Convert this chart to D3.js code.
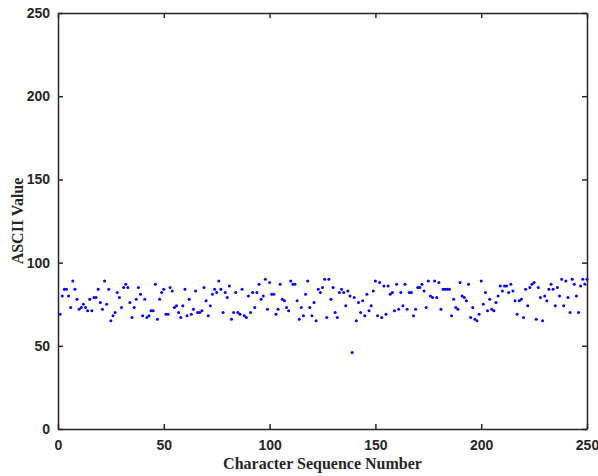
<!DOCTYPE html>
<html>
<head>
<meta charset="utf-8">
<script src="https://cdn.jsdelivr.net/npm/d3@7"></script>
<style>
  body { margin: 0; background: #fff; }
  .tick text { font-family: "Liberation Sans", Arial, sans-serif; font-weight: bold; font-size: 14px; fill: #262626; }
  .axis-title { font-family: "Liberation Serif", "Times New Roman", serif; font-weight: bold; font-size: 16px; fill: #262626; }
</style>
</head>
<body>
<div id="chart"></div>
<script>
// ASCII value of each character, in sequence order 1..250
var asciiValues = [
  69, 80, 84, 84, 80, 73, 89, 84, 78, 72, 73, 75, 73, 71, 78, 71, 79, 79, 84, 76,
  72, 89, 75, 84, 65, 68, 70, 82, 79, 73, 85, 87, 85, 76, 67, 73, 78, 85, 81, 68,
  78, 67, 68, 71, 71, 87, 66, 78, 82, 84, 69, 69, 85, 83, 73, 74, 70, 67, 74, 84,
  68, 78, 69, 72, 83, 70, 70, 71, 85, 77, 68, 74, 81, 84, 82, 89, 84, 70, 82, 79,
  86, 66, 70, 82, 70, 69, 84, 68, 67, 80, 70, 82, 73, 82, 87, 78, 80, 90, 72, 88,
  81, 81, 69, 72, 87, 78, 77, 73, 71, 89, 87, 87, 77, 66, 73, 68, 81, 89, 73, 68,
  76, 65, 84, 82, 85, 90, 67, 90, 78, 85, 70, 67, 82, 84, 82, 74, 83, 80, 46, 79,
  65, 76, 70, 77, 68, 81, 71, 74, 83, 89, 68, 88, 67, 86, 69, 86, 81, 82, 71, 87,
  72, 82, 74, 87, 72, 82, 82, 68, 72, 85, 85, 87, 83, 73, 89, 80, 79, 89, 79, 88,
  72, 84, 84, 84, 84, 68, 78, 73, 72, 88, 80, 79, 77, 87, 67, 73, 66, 65, 69, 89,
  75, 82, 71, 78, 72, 71, 76, 80, 86, 83, 86, 86, 82, 87, 83, 77, 69, 77, 78, 67,
  84, 74, 85, 87, 88, 66, 85, 79, 65, 80, 77, 84, 87, 84, 74, 85, 80, 90, 74, 89,
  79, 70, 90, 87, 80, 70, 86, 90, 87, 90
];
var xTicks = [0, 50, 100, 150, 200, 250];
var yTicks = [0, 50, 100, 150, 200, 250];

var W = 598, H = 476;
var margin = { top: 13, right: 11, bottom: 47, left: 58 };
var width = W - margin.left - margin.right,
  height = H - margin.top - margin.bottom;

var svg = d3.select("#chart").append("svg")
  .attr("width", W)
  .attr("height", H);

var g = svg.append("g")
  .attr("transform", "translate(" + margin.left + "," + margin.top + ")");

var x = d3.scaleLinear().domain([0, 250]).range([0, width]);
var y = d3.scaleLinear().domain([0, 250]).range([height, 0]);

var tick = 5;

// bottom axis (ticks point inward)
g.append("g")
  .attr("transform", "translate(0," + height + ")")
  .call(d3.axisBottom(x).tickValues(xTicks).tickSizeInner(-tick).tickSizeOuter(0).tickPadding(11));

// left axis
g.append("g")
  .call(d3.axisLeft(y).tickValues(yTicks).tickSizeInner(-tick).tickSizeOuter(0).tickPadding(8));

// top and right box edges, no labels
g.append("g")
  .call(d3.axisTop(x).tickValues(xTicks).tickSizeInner(-tick).tickSizeOuter(0).tickFormat(""));
g.append("g")
  .attr("transform", "translate(" + width + ",0)")
  .call(d3.axisRight(y).tickValues(yTicks).tickSizeInner(-tick).tickSizeOuter(0).tickFormat(""));

g.selectAll(".domain").attr("stroke", "#262626").attr("stroke-width", 1.5);
g.selectAll(".tick line").attr("stroke", "#262626").attr("stroke-width", 1.5);

// points
g.append("g")
  .selectAll("circle")
  .data(asciiValues)
  .enter()
  .append("circle")
  .attr("cx", (d, i) => x(i + 1))
  .attr("cy", (d) => y(d))
  .attr("r", 1.5)
  .style("fill", "#0000ff");

// axis titles
svg.append("text")
  .attr("class", "axis-title")
  .attr("x", margin.left + width / 2)
  .attr("y", 469)
  .attr("text-anchor", "middle")
  .text("Character Sequence Number");

svg.append("text")
  .attr("class", "axis-title")
  .attr("transform", "translate(23," + (margin.top + height / 2) + ") rotate(-90)")
  .attr("text-anchor", "middle")
  .text("ASCII Value");
</script>
</body>
</html>
